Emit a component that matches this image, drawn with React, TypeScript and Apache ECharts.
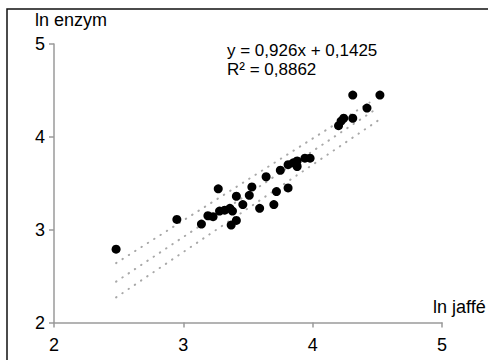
import React, { useEffect, useRef } from "react";
import * as echarts from "echarts";

// ln jaffé (x) vs ln enzym (y)
const lnJaffe = [
  2.48, 2.95, 3.14, 3.19, 3.23, 3.27, 3.28, 3.32, 3.36, 3.38, 3.37, 3.41,
  3.41, 3.46, 3.51, 3.53, 3.59, 3.64, 3.70, 3.72, 3.75, 3.81, 3.81, 3.88,
  3.85, 3.88, 3.94, 3.98, 4.20, 4.22, 4.24, 4.31, 4.31, 4.42, 4.52,
];
const lnEnzym = [
  2.79, 3.11, 3.06, 3.15, 3.14, 3.44, 3.20, 3.21, 3.23, 3.20, 3.05, 3.10,
  3.36, 3.27, 3.37, 3.46, 3.23, 3.57, 3.27, 3.41, 3.64, 3.45, 3.70, 3.74,
  3.72, 3.68, 3.77, 3.77, 4.12, 4.17, 4.20, 4.20, 4.45, 4.31, 4.45,
];

// dotted trend line and band lines
const trendX = [2.48, 4.48];
const trendY = [2.44, 4.29];
const upperX = [2.48, 4.44];
const upperY = [2.64, 4.37];
const lowerX = [2.48, 4.51];
const lowerY = [2.27, 4.18];

const axisTicks = [2, 3, 4, 5];
const equationText = "y = 0,926x + 0,1425";
const r2Text = "R² = 0,8862";
const xName = "ln jaffé";
const yName = "ln enzym";

const FONT = "'Liberation Sans', Arial, sans-serif";

export default function App() {
  const ref = useRef<HTMLDivElement>(null);
  useEffect(() => {
    if (!ref.current) return;
    const chart = echarts.init(ref.current, null, { renderer: "svg" });
    const pairs = (xs: number[], ys: number[]) => xs.map((x, i) => [x, ys[i]]);
    const dotted = {
      type: "line" as const,
      symbol: "none",
      silent: true,
      z: 1,
      lineStyle: { color: "#a8a8a8", width: 2, type: [0.5, 7] as any, cap: "round" as any },
    };
    const gray = "#9a9a9a";
    const textStyle = (text: string, x: number, y: number, size = 18) => ({
      text,
      x,
      y,
      fill: "#000",
      font: `${size}px ${FONT}`,
      verticalAlign: "middle",
      align: "left",
    });
    chart.setOption({
      animation: false,
      backgroundColor: "#ffffff",
      textStyle: { fontFamily: FONT },
      grid: { left: 54, right: 46, top: 44, bottom: 37.5 },
      xAxis: {
        type: "value",
        min: axisTicks[0],
        max: axisTicks[axisTicks.length - 1],
        interval: 1,
        splitLine: { show: false },
        axisLine: { lineStyle: { color: gray, width: 1.5 } },
        axisTick: { show: true, length: 5, lineStyle: { color: gray, width: 1.5 } },
        axisLabel: { color: "#000", fontSize: 18, fontFamily: FONT, margin: 13 },
      },
      yAxis: {
        type: "value",
        min: axisTicks[0],
        max: axisTicks[axisTicks.length - 1],
        interval: 1,
        splitLine: { show: false },
        axisLine: { show: true, lineStyle: { color: gray, width: 1.5 } },
        axisTick: { show: true, length: 5, lineStyle: { color: gray, width: 1.5 } },
        axisLabel: { color: "#000", fontSize: 18, fontFamily: FONT, margin: 9 },
      },
      graphic: [
        {
          type: "rect",
          shape: { x: 7, y: 9, width: 600, height: 500 },
          style: { fill: "none", stroke: "#111", lineWidth: 1.5 },
          silent: true,
          z: 100,
        },
        { type: "text", style: textStyle(yName, 35, 20.4) },
        { type: "text", style: textStyle(xName, 433, 307) },
        { type: "text", style: textStyle(equationText, 227, 50, 17) },
        { type: "text", style: textStyle(r2Text, 227, 69, 17) },
      ],
      series: [
        { ...dotted, data: pairs(upperX, upperY) },
        { ...dotted, data: pairs(trendX, trendY) },
        { ...dotted, data: pairs(lowerX, lowerY) },
        {
          type: "scatter",
          z: 3,
          symbol: "circle",
          symbolSize: 9,
          itemStyle: { color: "#000", opacity: 1 },
          data: pairs(lnJaffe, lnEnzym),
        },
      ],
    });
    return () => chart.dispose();
  }, []);
  return (
    <div
      ref={ref}
      style={{ position: "fixed", left: 0, top: 0, width: 488, height: 360, background: "#fff" }}
    />
  );
}
